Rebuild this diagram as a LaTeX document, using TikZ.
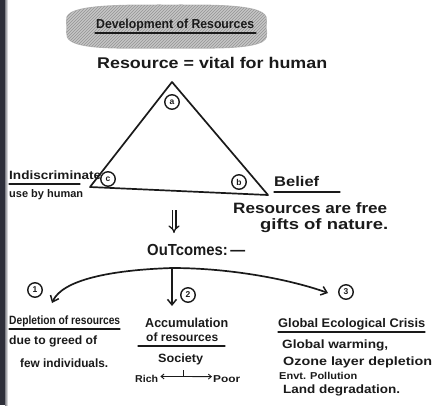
\documentclass[tikz,border=0pt]{standalone}
\usepackage{fontspec}
\setmainfont{Liberation Sans}
\usepackage{graphicx}
\usetikzlibrary{arrows.meta,patterns}
% stretch a line of text to a given width (in pt), keeping its height
\newcommand\fitw[2]{\resizebox{#1pt}{\height}{#2}}
\definecolor{inkc}{HTML}{1A1A1A}
\definecolor{edgec}{HTML}{2E2F3A}
\tikzset{
  ink/.style={line width=1.7pt, draw=inkc, line cap=round, line join=round},
  uline/.style={line width=1.1pt, draw=inkc, line cap=round},
  txt/.style={anchor=base west, inner sep=0pt, text=inkc,
              font=\bfseries\fontsize{#1}{#1}\selectfont},
  num/.style={circle, draw=inkc, line width=1.4pt, inner sep=0pt,
              minimum size=14.5pt, text=inkc,
              font=\bfseries\fontsize{8.5}{8.5}\selectfont},
  tip/.style={-{Straight Barb[length=5.5pt,width=9pt,line width=1.5pt]}}
}
\begin{document}
\begin{tikzpicture}[x=1pt,y=-1pt]
\useasboundingbox (0,0) rectangle (438,405);
\clip (0,0) rectangle (438,405);

% hatched heading blob
\path[fill=gray!45, draw=gray!55, line width=1pt]
  plot[smooth cycle, tension=0.7] coordinates
  {(67,27) (82,9) (170,5) (252,9) (266,27) (252,45) (165,48) (82,45)};
\path[pattern=north east lines, pattern color=gray!85]
  plot[smooth cycle, tension=0.7] coordinates
  {(67,27) (82,9) (170,5) (252,9) (266,27) (252,45) (165,48) (82,45)};
\node[txt=13] (title) at (96,28) {\fitw{158}{Development of Resources}};
\draw[uline] (95,33) -- (256,33);

\node[txt=15.5] (vital) at (97,68) {\fitw{230}{Resource = vital for human}};

% resource triangle
\coordinate (A) at (172,82);
\coordinate (B) at (268,195);
\coordinate (C) at (90,187);
\draw[ink] (A) -- (B) -- (C) -- cycle;
\node[num] (na) at (172,102) {a};
\node[num] (nb) at (239,182) {b};

\node[txt=12] (indis) at (9,179) {\fitw{92}{Indiscriminate}};
\draw[uline] (9,184) -- (80,184);
\node[txt=11] (usehum) at (9,197) {\fitw{74}{use by human}};
\node[num] (nc) at (108,179) {c};

\node[txt=14] (belief) at (274,186) {\fitw{45}{Belief}};
\draw[uline] (274,192) -- (340,192);
\node[txt=15] (free) at (233,213) {\fitw{154}{Resources are free}};
\node[txt=15] (gifts) at (260,229) {\fitw{128}{gifts of nature.}};

% leads to
\coordinate (dtop) at (174,210);
\coordinate (dbot) at (174,233);
\draw[double=white, draw=inkc, line width=1.3pt, double distance=2.4pt,
      -{Implies[length=5pt]}] (dtop) -- (dbot);

\node[txt=16] (out) at (147,255) {\fitw{98}{OuTcomes:\,---}};

% three outcomes
\coordinate (br) at (172,268);
\coordinate (t1) at (52,303);
\coordinate (t2) at (172,306);
\coordinate (t3) at (328,293);
\draw[ink, tip] (br) .. controls (110,270) and (62,280) .. (t1);
\draw[ink, tip] (br) -- (t2);
\draw[ink, tip] (br) .. controls (232,268) and (292,280) .. (t3);
\node[num] (n1) at (35,290) {1};
\node[num] (n2) at (188,295) {2};
\node[num] (n3) at (346,292) {3};

% outcome 1
\node[txt=12] (depl) at (9,324) {\fitw{111}{Depletion of resources}};
\draw[uline] (9,329) -- (120,329);
\node[txt=12] (greed) at (9,344) {\fitw{88}{due to greed of}};
\node[txt=12] (few) at (20,367) {\fitw{88}{few individuals.}};

% outcome 2
\node[txt=13] (accu) at (145,327) {\fitw{83}{Accumulation}};
\node[txt=12] (ofres) at (146,341) {\fitw{72}{of resources}};
\draw[uline] (138,346) -- (225,346);
\node[txt=12] (soc) at (158,362) {\fitw{45}{Society}};
\node[txt=10] (rich) at (135,382) {\fitw{23}{Rich}};
\node[txt=10] (poor) at (213,382) {\fitw{27}{Poor}};
\draw[line width=0.9pt, draw=inkc,
      {Straight Barb[length=3pt,width=5pt]}-{Straight Barb[length=3pt,width=5pt]}]
  ([xshift=2pt,yshift=2pt]rich.east) -- ([xshift=-1pt,yshift=2pt]poor.west);
\draw[line width=0.9pt, draw=inkc] (183,377) -- (183,370);

% outcome 3
\node[txt=12.5] (crisis) at (278,327) {\fitw{147}{Global Ecological Crisis}};
\draw[uline] (278,332) -- (425,332);
\node[txt=12] (warm) at (282,348) {\fitw{106}{Global warming,}};
\node[txt=12] (ozone) at (283,365) {\fitw{149}{Ozone layer depletion}};
\node[txt=10] (envt) at (279,379) {\fitw{78}{Envt. Pollution}};
\node[txt=12] (land) at (283,393) {\fitw{117}{Land degradation.}};

% dark page edge
\fill[edgec] (0,0) rectangle (5,405);
\shade[left color=edgec!60, right color=white] (5,0) rectangle (8,405);
\end{tikzpicture}
\end{document}
